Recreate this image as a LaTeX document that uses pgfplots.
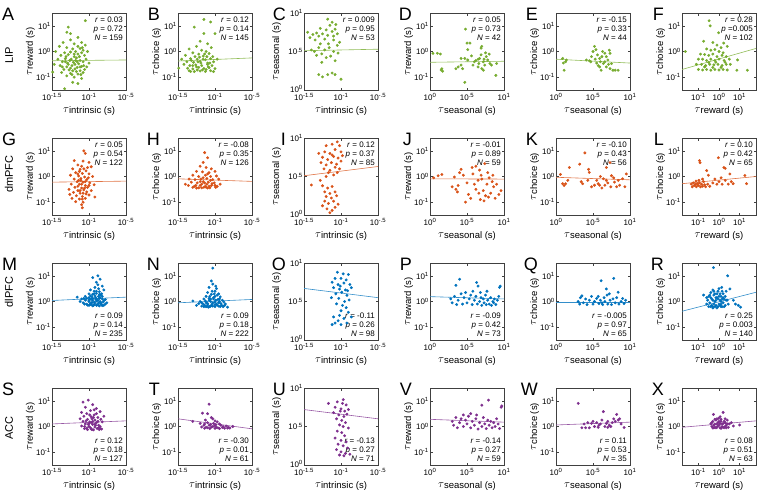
\documentclass[border=0pt]{standalone}
\usepackage{fontspec}
\setmainfont{Liberation Sans}
\usepackage{pgfplots}
\pgfplotsset{compat=1.18}
\definecolor{cG}{RGB}{119,172,48}
\definecolor{cO}{RGB}{217,83,25}
\definecolor{cB}{RGB}{0,114,189}
\definecolor{cP}{RGB}{126,47,142}
\newcommand{\tl}[1]{\raisebox{1.2pt}{\fontsize{11}{12}\selectfont$\tau$}#1 (s)}
\newcommand{\ee}[1]{10\textsuperscript{#1}}
\newcommand{\st}[3]{\textit{r} = #1\\\textit{p} #2\\\textit{N} = #3}
\pgfplotsset{
  panel/.style={scale only axis, width=74pt, height=77pt, anchor=north west,
    axis line style={line width=0.4pt, black!75}, tick style={black!75, line width=0.4pt},
    major tick length=2.5pt, tick align=inside,
    ticklabel style={font=\fontsize{8}{9}\selectfont, inner sep=1pt},
    xticklabel style={yshift=-2pt},
    label style={font=\fontsize{9.5}{11}\selectfont},
    xlabel style={at={(axis description cs:0.5,-0.27)}, anchor=center},
    ylabel style={at={(axis description cs:-0.29,0.5)}, anchor=center}},
  xint/.style={xmin=-1.5,xmax=-0.5,xtick={-1.5,-1,-0.5},xticklabels={\ee{-1.5},\ee{-1},\ee{-.5}},xlabel={\tl{intrinsic}}},
  xsea/.style={xmin=0,xmax=1,xtick={0,0.5,1},xticklabels={\ee{0},\ee{.5},\ee{1}},xlabel={\tl{seasonal}}},
  xrew/.style={xmin=-1.8,xmax=1.8,xtick={-1,0,1},xticklabels={\ee{-1},\ee{0},\ee{1}},xlabel={\tl{reward}}},
  yrew/.style={ymin=-1.5,ymax=1.5,ytick={-1,0,1},yticklabels={\ee{-1},\ee{0},\ee{1}},ylabel={\tl{reward}}},
  ych/.style={ymin=-1.5,ymax=1.5,ytick={-1,0,1},yticklabels={\ee{-1},\ee{0},\ee{1}},ylabel={\tl{choice}}},
  ysea/.style={ymin=0,ymax=1,ytick={0,0.5,1},yticklabels={\raisebox{2.5pt}{\ee{0}},\ee{.5},\ee{1}},ylabel={\tl{seasonal}},
    ylabel style={at={(axis description cs:-0.37,0.5)}}},
  scat/.style={only marks, mark=*, mark size=1.25pt, color=#1, mark options={draw=none, fill=#1}},
  rline/.style={no marks, line width=0.6pt, color=#1!80!white},
}
\tikzset{letA/.style={anchor=north west, font=\fontsize{18}{18}\selectfont, inner sep=0pt},
  letB/.style={anchor=north east, font=\fontsize{18}{18}\selectfont, inner sep=0pt},
  rowl/.style={rotate=90, font=\fontsize{11}{12}\selectfont, inner sep=0pt},
  stT/.style={anchor=north east, align=right, font=\fontsize{8}{9}\selectfont, inner sep=0pt},
  stB/.style={anchor=south east, align=right, font=\fontsize{8}{9}\selectfont, inner sep=0pt}}
\begin{document}
\begin{tikzpicture}
% ---------------- Row 1: LIP ----------------
\node[rowl] at (9pt,-55pt) {LIP};
\node[letA] at (2pt,-8pt) {A};
\begin{axis}[panel, at={(52pt,-13pt)}, xint, yrew]
\addplot[scat=cG] coordinates {(-1.05,1.2) (-1.28,0.95) (-1.3,0.75) (-1.25,0.7) (-1.15,0.55) (-1.35,0.35) (-1.2,0.3) (-1.1,0.35) (-1.05,0.25) (-1.4,0.2) (-1.3,0.15) (-1.22,0.1) (-1.12,0.12) (-1.08,0.05) (-1.45,0.0) (-1.33,-0.05) (-1.25,-0.02) (-1.18,0.0) (-1.1,-0.05) (-1.02,0.0) (-1.38,-0.15) (-1.28,-0.12) (-1.2,-0.2) (-1.15,-0.1) (-1.06,-0.15) (-1.42,-0.3) (-1.32,-0.28) (-1.24,-0.3) (-1.17,-0.25) (-1.12,-0.35) (-1.04,-0.3) (-1.36,-0.4) (-1.29,-0.45) (-1.21,-0.42) (-1.14,-0.48) (-1.08,-0.4) (-1.0,-0.45) (-1.47,-0.5) (-1.39,-0.55) (-1.3,-0.6) (-1.23,-0.55) (-1.16,-0.62) (-1.1,-0.58) (-1.03,-0.6) (-1.34,-0.7) (-1.27,-0.72) (-1.19,-0.68) (-1.12,-0.75) (-1.06,-0.7) (-1.49,-0.8) (-1.37,-0.82) (-1.25,-0.85) (-1.15,-0.88) (-1.08,-0.82) (-1.3,-0.95) (-1.2,-1.0) (-1.1,-1.05) (-1.22,-1.2) (-1.33,-1.45) (-1.15,-1.25) (-1.26,-0.35) (-1.19,-0.5) (-1.31,-0.2) (-1.13,-0.2) (-1.25,0.45) (-1.36,-0.6) (-1.17,-0.78) (-1.09,0.15)};
\addplot[scat=cG] coordinates {(-1.18,-0.35) (-1.25,-0.65) (-1.12,-0.6) (-1.22,-0.75) (-1.28,-0.5) (-1.16,-0.4) (-1.07,-0.55) (-1.2,-0.1) (-1.32,-0.4) (-1.15,0.2) (-1.23,-0.9) (-1.11,-0.9)};
\addplot[rline=cG] coordinates {(-1.5,-0.36) (-0.5,-0.33)};
\node[stT] at (rel axis cs:0.96,0.95) {\st{0.03}{= 0.72}{159}};
\end{axis}
\node[letB] at (160pt,-8pt) {B};
\begin{axis}[panel, at={(178pt,-13pt)}, xint, ych]
\addplot[scat=cG] coordinates {(-1.15,1.25) (-1.06,1.15) (-1.28,0.95) (-1.15,0.7) (-1.0,0.7) (-1.2,0.4) (-1.1,0.3) (-1.25,0.2) (-1.05,0.15) (-1.35,0.1) (-1.18,0.05) (-1.12,0.0) (-1.3,-0.05) (-1.22,-0.1) (-1.08,-0.08) (-1.4,-0.15) (-1.27,-0.2) (-1.16,-0.18) (-1.03,-0.2) (-1.45,-0.3) (-1.33,-0.28) (-1.24,-0.3) (-1.13,-0.32) (-1.06,-0.28) (-0.97,-0.3) (-1.38,-0.4) (-1.29,-0.42) (-1.2,-0.38) (-1.1,-0.45) (-1.02,-0.4) (-1.42,-0.5) (-1.34,-0.55) (-1.26,-0.52) (-1.18,-0.55) (-1.1,-0.5) (-1.04,-0.55) (-1.49,-0.65) (-1.37,-0.65) (-1.3,-0.68) (-1.22,-0.62) (-1.15,-0.66) (-1.08,-0.63) (-1.0,-0.67) (-1.35,-0.75) (-1.28,-0.78) (-1.2,-0.76) (-1.13,-0.78) (-1.06,-0.75) (-1.24,-0.72) (-1.17,-0.72) (-1.32,-0.35) (-1.14,-0.1) (-1.21,-0.22) (-1.09,-0.6)};
\addplot[scat=cG] coordinates {(-1.25,-0.6) (-1.19,-0.45) (-1.12,-0.7) (-1.3,-0.55) (-1.16,-0.3) (-1.07,-0.45) (-1.23,-0.4) (-1.33,-0.78) (-1.11,-0.2) (-1.02,-0.78)};
\addplot[rline=cG] coordinates {(-1.5,-0.37) (-0.5,-0.25)};
\node[stT] at (rel axis cs:0.96,0.95) {\st{0.12}{= 0.14}{145}};
\end{axis}
\node[letB] at (286pt,-8pt) {C};
\begin{axis}[panel, at={(304pt,-13pt)}, xint, ysea]
\addplot[scat=cG] coordinates {(-1.45,0.75) (-1.42,0.68) (-1.38,0.72) (-1.35,0.65) (-1.33,0.74) (-1.3,0.7) (-1.28,0.6) (-1.25,0.73) (-1.22,0.66) (-1.2,0.78) (-1.18,0.71) (-1.15,0.84) (-1.12,0.76) (-1.1,0.65) (-1.08,0.79) (-1.05,0.73) (-1.18,0.92) (-1.12,0.88) (-1.07,0.85) (-1.3,0.55) (-1.36,0.5) (-1.26,0.47) (-1.22,0.52) (-1.16,0.55) (-1.1,0.5) (-1.05,0.58) (-1.02,0.62) (-1.4,0.52) (-1.33,0.45) (-1.2,0.42) (-1.14,0.44) (-1.08,0.38) (-1.26,0.36) (-1.17,0.6) (-1.28,0.8) (-1.1,0.7) (-1.04,0.48) (-1.3,0.2) (-1.25,0.17) (-1.18,0.2) (-1.12,0.22) (-1.08,0.2) (-1.0,0.14)};
\addplot[rline=cG] coordinates {(-1.5,0.51) (-0.5,0.53)};
\node[stT] at (rel axis cs:0.96,0.95) {\st{0.009}{= 0.95}{53}};
\end{axis}
\node[letB] at (412pt,-8pt) {D};
\begin{axis}[panel, at={(430pt,-13pt)}, xsea, yrew]
\addplot[scat=cG] coordinates {(0.04,-0.07) (0.1,-0.07) (0.14,-0.1) (0.16,-0.67) (0.17,-0.77) (0.15,-0.72) (0.35,-0.67) (0.38,-0.6) (0.42,-0.53) (0.44,-0.67) (0.47,-1.2) (0.48,0.87) (0.5,0.33) (0.54,0.33) (0.51,0.07) (0.56,-0.17) (0.58,-0.53) (0.6,-0.4) (0.65,-0.3) (0.66,-0.47) (0.67,-0.27) (0.69,-0.13) (0.69,0.13) (0.7,0.2) (0.72,-0.4) (0.74,-0.53) (0.72,-0.73) (0.76,-0.2) (0.78,-0.33) (0.81,-0.47) (0.83,-0.53) (0.89,-0.93) (0.9,-0.47) (0.65,-0.6) (0.7,-0.67) (0.51,-0.33) (0.47,-0.27) (0.42,-0.27) (0.75,-0.05) (0.62,-0.35) (0.8,-0.1) (0.73,-0.3)};
\addplot[rline=cG] coordinates {(0,-0.42) (1,-0.38)};
\node[stT] at (rel axis cs:0.96,0.95) {\st{0.05}{= 0.73}{42}};
\end{axis}
\node[letB] at (538pt,-8pt) {E};
\begin{axis}[panel, at={(556pt,-13pt)}, xsea, ych]
\addplot[scat=cG] coordinates {(0.09,-0.27) (0.13,-0.4) (0.14,-0.33) (0.11,-0.73) (0.1,-0.45) (0.41,-0.33) (0.45,-0.36) (0.48,-0.2) (0.52,0.2) (0.5,0.0) (0.54,0.07) (0.56,-0.13) (0.59,-0.27) (0.59,-0.6) (0.61,-0.73) (0.64,-0.47) (0.66,-0.07) (0.68,-0.2) (0.7,-0.33) (0.68,-0.6) (0.73,-0.67) (0.73,-0.07) (0.75,-0.47) (0.77,-0.73) (0.8,-0.73) (0.84,-0.73) (0.63,0.0) (0.6,-0.4) (0.71,-0.5) (0.66,-0.4) (0.55,-0.45) (0.62,-0.2) (0.72,0.05) (0.57,-0.55) (0.47,-0.4) (0.53,-0.3)};
\addplot[rline=cG] coordinates {(0,-0.3) (1,-0.45)};
\node[stT] at (rel axis cs:0.96,0.95) {\st{-0.15}{= 0.33}{44}};
\end{axis}
\node[letB] at (664pt,-8pt) {F};
\begin{axis}[panel, at={(682pt,-13pt)}, xrew, ych]
\addplot[scat=cG] coordinates {(-0.48,1.2) (-0.43,1.0) (-0.02,0.73) (-0.75,0.4) (-1.64,0.0) (0.87,-0.73) (1.38,-0.73) (0.9,-0.33) (0.23,0.33) (0.4,0.2) (-0.3,0.35) (-0.1,0.25) (0.1,0.15) (-0.6,0.1) (-0.4,0.05) (-0.2,0.08) (0.0,0.0) (0.2,-0.05) (-0.9,-0.1) (-0.7,-0.12) (-0.5,-0.15) (-0.3,-0.1) (-0.1,-0.2) (0.15,-0.15) (0.35,-0.2) (-1.0,-0.3) (-0.8,-0.3) (-0.6,-0.35) (-0.4,-0.3) (-0.2,-0.35) (0.0,-0.3) (0.25,-0.35) (0.5,-0.3) (-1.1,-0.5) (-0.85,-0.5) (-0.65,-0.55) (-0.45,-0.5) (-0.25,-0.52) (-0.05,-0.5) (0.15,-0.55) (0.35,-0.5) (0.55,-0.5) (-1.0,-0.7) (-0.8,-0.72) (-0.6,-0.7) (-0.4,-0.73) (-0.2,-0.7) (0.0,-0.72) (0.2,-0.7) (0.4,-0.72) (-0.7,-0.6) (-0.3,-0.62) (0.1,-0.62) (-0.5,-0.42) (-0.15,-0.42) (0.3,-0.42)};
\addplot[rline=cG] coordinates {(-1.8,-0.7) (1.8,0.12)};
\node[stT] at (rel axis cs:0.96,0.95) {\st{0.28}{=0.005}{102}};
\end{axis}
% ---------------- Row 2: dmPFC ----------------
\node[rowl] at (9pt,-174pt) {dmPFC};
\node[letA] at (2pt,-133pt) {G};
\begin{axis}[panel, at={(52pt,-138pt)}, xint, yrew]
\addplot[scat=cO] coordinates {(-1.07,1.0) (-1.05,0.9) (-1.2,0.62) (-1.08,0.6) (-1.0,0.55) (-1.15,0.45) (-1.1,0.4) (-0.97,0.38) (-1.22,0.3) (-1.12,0.28) (-1.04,0.22) (-1.18,0.15) (-1.09,0.12) (-1.0,0.1) (-1.25,0.05) (-1.14,0.02) (-1.06,-0.02) (-0.95,0.0) (-1.2,-0.1) (-1.11,-0.08) (-1.03,-0.12) (-1.16,-0.2) (-1.08,-0.22) (-0.99,-0.25) (-1.24,-0.3) (-1.13,-0.3) (-1.05,-0.35) (-0.93,-0.32) (-1.19,-0.42) (-1.1,-0.45) (-1.02,-0.42) (-1.27,-0.5) (-1.15,-0.55) (-1.07,-0.52) (-0.97,-0.55) (-1.21,-0.62) (-1.12,-0.65) (-1.04,-0.68) (-1.17,-0.75) (-1.09,-0.78) (-1.0,-0.72) (-1.23,-0.85) (-1.13,-0.88) (-1.05,-0.85) (-0.92,-0.8) (-1.18,-0.98) (-1.08,-1.0) (-1.1,-1.1) (-1.09,-1.22) (-1.11,-0.15) (-1.07,0.3) (-1.15,-0.38) (-1.03,-0.6) (-1.26,-0.7) (-1.13,0.2) (-1.01,-0.05)};
\addplot[scat=cO] coordinates {(-1.1,-0.3) (-1.06,-0.45) (-1.12,-0.55) (-1.08,-0.65) (-1.05,-0.2) (-1.15,0.1) (-1.02,0.35) (-1.09,-0.88) (-1.14,-0.15) (-1.0,-0.35)};
\addplot[rline=cO] coordinates {(-1.5,-0.22) (-0.5,-0.18)};
\node[stT] at (rel axis cs:0.96,0.95) {\st{0.05}{= 0.54}{122}};
\end{axis}
\node[letB] at (160pt,-133pt) {H};
\begin{axis}[panel, at={(178pt,-138pt)}, xint, ych]
\addplot[scat=cO] coordinates {(-1.14,0.93) (-1.16,0.55) (-1.1,0.73) (-1.2,0.4) (-1.12,0.35) (-1.05,0.3) (-1.25,0.2) (-1.17,0.18) (-1.08,0.15) (-1.0,0.2) (-1.3,0.05) (-1.22,0.0) (-1.13,0.05) (-1.06,0.0) (-0.98,0.02) (-1.35,-0.1) (-1.27,-0.12) (-1.19,-0.1) (-1.11,-0.08) (-1.03,-0.12) (-0.95,-0.1) (-1.4,-0.3) (-1.32,-0.22) (-1.24,-0.25) (-1.16,-0.2) (-1.09,-0.22) (-1.01,-0.25) (-0.93,-0.3) (-1.36,-0.35) (-1.28,-0.38) (-1.2,-0.35) (-1.13,-0.38) (-1.05,-0.35) (-0.97,-0.38) (-1.3,-0.42) (-1.22,-0.44) (-1.15,-0.42) (-1.07,-0.44) (-0.99,-0.42) (-1.18,-0.3) (-1.11,-0.3) (-1.04,-0.28) (-1.25,-0.45) (-1.1,-0.45)};
\addplot[scat=cO] coordinates {(-1.12,-0.42) (-1.18,-0.44) (-1.08,-0.38) (-1.14,-0.25) (-1.06,-0.15) (-1.2,-0.2) (-1.0,-0.35) (-1.16,-0.05) (-1.1,0.1) (-1.26,-0.35)};
\addplot[rline=cO] coordinates {(-1.5,-0.09) (-0.5,-0.19)};
\node[stT] at (rel axis cs:0.96,0.95) {\st{-0.08}{= 0.35}{126}};
\end{axis}
\node[letB] at (286pt,-133pt) {I};
\begin{axis}[panel, at={(304pt,-138pt)}, xint, ysea]
\addplot[scat=cO] coordinates {(-1.2,0.9) (-1.12,0.92) (-1.05,0.95) (-1.02,0.9) (-1.22,0.82) (-1.15,0.8) (-1.08,0.85) (-1.0,0.82) (-1.25,0.75) (-1.18,0.72) (-1.1,0.76) (-1.04,0.74) (-0.98,0.77) (-1.27,0.68) (-1.2,0.65) (-1.13,0.68) (-1.06,0.66) (-1.0,0.7) (-1.23,0.6) (-1.15,0.58) (-1.08,0.62) (-1.02,0.6) (-1.17,0.55) (-1.1,0.52) (-1.05,0.55) (-1.3,0.8) (-1.12,0.78) (-1.4,0.39) (-1.28,0.45) (-1.2,0.5) (-1.25,0.38) (-1.18,0.35) (-1.12,0.37) (-1.22,0.3) (-1.15,0.28) (-1.08,0.3) (-1.2,0.24) (-1.13,0.22) (-1.06,0.25) (-1.1,0.18) (-1.17,0.15) (-1.04,0.14) (-1.25,0.12) (-1.19,0.08) (-1.12,0.06) (-1.15,0.03) (-1.08,0.1) (-1.22,0.18)};
\addplot[rline=cO] coordinates {(-1.5,0.51) (-0.5,0.63)};
\node[stT] at (rel axis cs:0.96,0.95) {\st{0.12}{= 0.37}{85}};
\end{axis}
\node[letB] at (412pt,-133pt) {J};
\begin{axis}[panel, at={(430pt,-138pt)}, xsea, yrew]
\addplot[scat=cO] coordinates {(0.05,-0.05) (0.11,0.03) (0.16,0.08) (0.33,-0.02) (0.35,-0.5) (0.37,-0.6) (0.38,-0.35) (0.4,0.15) (0.42,0.28) (0.45,0.05) (0.5,-0.25) (0.52,-0.7) (0.55,-0.85) (0.58,0.1) (0.6,-0.3) (0.62,0.4) (0.62,-0.5) (0.65,-0.15) (0.67,0.25) (0.68,-0.9) (0.7,-0.1) (0.72,-0.55) (0.74,0.5) (0.75,-0.75) (0.77,-0.3) (0.78,0.15) (0.8,-0.05) (0.82,-0.65) (0.84,-0.2) (0.86,-0.4) (0.88,-0.85) (0.9,-0.3) (0.93,-0.7) (0.96,-0.55) (0.48,-1.0) (0.3,-0.4) (0.57,0.35) (0.66,-0.65) (0.73,-0.95) (0.85,0.05) (0.79,-0.8) (0.69,0.05)};
\addplot[rline=cO] coordinates {(0,-0.09) (1,-0.1)};
\node[stT] at (rel axis cs:0.96,0.95) {\st{-0.01}{= 0.89}{59}};
\end{axis}
\node[letB] at (538pt,-133pt) {K};
\begin{axis}[panel, at={(556pt,-138pt)}, xsea, ych]
\addplot[scat=cO] coordinates {(0.06,0.08) (0.09,-0.28) (0.13,-0.28) (0.16,-0.15) (0.18,0.35) (0.11,-0.35) (0.32,0.48) (0.39,0.92) (0.34,-0.2) (0.36,-0.28) (0.43,-0.15) (0.45,0.16) (0.48,-0.4) (0.52,-0.34) (0.57,-0.28) (0.59,-0.34) (0.64,-0.09) (0.66,-0.34) (0.68,-0.15) (0.68,0.35) (0.73,0.54) (0.75,0.03) (0.79,-0.22) (0.82,-0.4) (0.86,-0.34) (0.93,-0.4) (0.95,0.1) (0.9,-0.09) (0.62,-0.45) (0.7,-0.25) (0.74,-0.4) (0.55,-0.15) (0.78,-0.05) (0.6,0.0) (0.84,-0.15) (0.44,0.28)};
\addplot[rline=cO] coordinates {(0,-0.03) (1,-0.13)};
\node[stT] at (rel axis cs:0.96,0.95) {\st{-0.10}{= 0.43}{56}};
\end{axis}
\node[letB] at (664pt,-133pt) {L};
\begin{axis}[panel, at={(682pt,-138pt)}, xrew, ych]
\addplot[scat=cO] coordinates {(-0.92,0.54) (-0.95,0.62) (-0.03,0.73) (0.24,0.35) (0.3,0.32) (0.53,0.1) (0.69,-0.28) (1.26,0.04) (1.34,-0.28) (-0.6,0.23) (-0.52,0.05) (-1.35,-0.3) (-1.25,-0.25) (-1.2,-0.35) (-1.15,-0.3) (-1.1,-0.4) (-1.05,-0.28) (-1.0,-0.35) (-0.95,-0.25) (-0.9,-0.4) (-0.85,-0.3) (-0.8,-0.38) (-0.75,-0.2) (-0.7,-0.32) (-0.65,-0.4) (-0.55,-0.3) (-0.45,-0.38) (-0.3,-0.25) (-0.2,-0.1) (-0.1,-0.3) (0.0,-0.2) (0.1,-0.05) (0.15,-0.3) (0.3,-0.15) (0.45,-0.3) (0.6,-0.2) (-1.12,-0.18) (-0.98,-0.15) (-0.8,-0.1) (-1.3,-0.4)};
\addplot[rline=cO] coordinates {(-1.8,-0.28) (1.8,0.0)};
\node[stT] at (rel axis cs:0.96,0.95) {\st{0.10}{= 0.42}{65}};
\end{axis}
% ---------------- Row 3: dlPFC ----------------
\node[rowl] at (9pt,-292pt) {dlPFC};
\node[letA] at (2pt,-258pt) {M};
\begin{axis}[panel, at={(52pt,-263pt)}, xint, yrew]
\addplot[scat=cB] coordinates {(-0.88,1.0) (-0.85,0.87) (-0.95,0.93) (-0.9,0.75) (-0.82,0.6) (-0.92,0.55) (-0.87,0.5) (-0.98,0.45) (-0.93,0.4) (-0.86,0.38) (-0.8,0.45) (-1.0,0.3) (-0.95,0.28) (-0.9,0.32) (-0.84,0.25) (-1.05,0.2) (-1.0,0.15) (-0.96,0.18) (-0.91,0.15) (-0.86,0.12) (-0.82,0.1) (-1.16,0.17) (-1.1,0.1) (-1.05,0.05) (-1.0,0.0) (-0.95,0.05) (-0.9,0.02) (-0.85,0.0) (-0.8,0.03) (-0.76,-0.05) (-1.08,-0.05) (-1.03,-0.1) (-0.98,-0.08) (-0.93,-0.12) (-0.88,-0.1) (-0.83,-0.12) (-0.78,-0.1) (-1.0,-0.15) (-0.95,-0.17) (-0.9,-0.15) (-0.86,-0.17) (-0.82,-0.16) (-1.12,0.0) (-0.97,0.1) (-0.93,-0.02) (-0.87,0.2) (-0.84,-0.05) (-0.92,0.22) (-0.99,0.08) (-1.02,-0.14) (-0.89,0.08) (-0.8,-0.15)};
\addplot[scat=cB] coordinates {(-0.97,-0.13) (-0.92,-0.06) (-0.88,0.04) (-0.85,0.15) (-0.83,0.3) (-0.9,0.4) (-0.95,0.12) (-1.0,0.05) (-1.03,0.12) (-0.94,-0.15) (-0.89,-0.13) (-0.84,-0.08) (-0.81,-0.02) (-0.78,0.08) (-0.96,-0.04) (-0.91,0.1) (-0.87,-0.06) (-0.99,-0.12) (-1.06,-0.1) (-0.93,0.3) (-0.88,0.65) (-0.86,0.27) (-0.98,0.22) (-1.07,0.12) (-0.82,0.2)};
\addplot[rline=cB] coordinates {(-1.5,0.04) (-0.5,0.17)};
\node[stB] at (rel axis cs:0.96,0.04) {\st{0.09}{= 0.14}{235}};
\end{axis}
\node[letB] at (160pt,-258pt) {N};
\begin{axis}[panel, at={(178pt,-263pt)}, xint, ych]
\addplot[scat=cB] coordinates {(-1.03,1.3) (-1.05,0.8) (-1.03,0.68) (-0.98,0.5) (-1.08,0.55) (-1.0,0.4) (-1.1,0.35) (-0.95,0.3) (-1.05,0.28) (-1.12,0.2) (-1.0,0.2) (-0.93,0.18) (-1.15,0.1) (-1.08,0.12) (-1.02,0.1) (-0.96,0.08) (-0.9,0.05) (-1.3,0.02) (-1.2,0.0) (-1.13,0.02) (-1.06,0.0) (-1.0,-0.02) (-0.94,0.0) (-0.88,-0.02) (-1.22,-0.08) (-1.16,-0.1) (-1.1,-0.08) (-1.04,-0.1) (-0.98,-0.1) (-0.92,-0.08) (-0.86,-0.1) (-1.18,-0.18) (-1.12,-0.2) (-1.06,-0.18) (-1.0,-0.2) (-0.95,-0.18) (-0.89,-0.2) (-0.83,-0.22) (-1.09,-0.22) (-1.03,-0.05) (-0.97,-0.14) (-1.14,-0.15) (-1.25,-0.15) (-1.07,0.2) (-0.99,0.05)};
\addplot[scat=cB] coordinates {(-1.1,-0.14) (-1.05,-0.16) (-1.0,-0.12) (-0.95,-0.05) (-0.91,-0.15) (-1.08,0.05) (-1.02,0.15) (-0.97,0.25) (-1.04,0.4) (-1.12,-0.05) (-1.18,-0.05) (-0.93,-0.2) (-1.07,-0.2) (-1.01,0.3) (-0.99,0.6) (-1.06,0.1) (-0.94,0.1) (-1.15,-0.2) (-0.87,-0.15) (-1.03,-0.18)};
\addplot[rline=cB] coordinates {(-1.5,-0.05) (-0.5,0.08)};
\node[stB] at (rel axis cs:0.96,0.04) {\st{0.09}{= 0.18}{222}};
\end{axis}
\node[letB] at (286pt,-258pt) {O};
\begin{axis}[panel, at={(304pt,-263pt)}, xint, ysea]
\addplot[scat=cB] coordinates {(-1.05,0.88) (-0.97,0.86) (-0.9,0.85) (-1.08,0.8) (-1.0,0.8) (-0.93,0.78) (-1.12,0.75) (-1.04,0.72) (-0.96,0.74) (-0.88,0.72) (-1.1,0.68) (-1.02,0.66) (-0.94,0.65) (-0.86,0.68) (-1.07,0.6) (-0.99,0.62) (-0.92,0.58) (-1.13,0.55) (-1.03,0.54) (-0.95,0.5) (-0.89,0.52) (-1.06,0.47) (-0.98,0.45) (-0.93,0.42) (-1.0,0.38) (-0.9,0.36) (-1.1,0.3) (-1.02,0.32) (-0.96,0.28) (-1.08,0.22) (-1.0,0.2) (-0.92,0.22) (-1.12,0.2) (-1.04,0.25) (-0.86,0.3) (-1.01,0.7) (-0.91,0.64)};
\addplot[rline=cB] coordinates {(-1.5,0.67) (-0.5,0.55)};
\node[stB] at (rel axis cs:0.96,0.04) {\st{-0.11}{= 0.26}{98}};
\end{axis}
\node[letB] at (412pt,-258pt) {P};
\begin{axis}[panel, at={(430pt,-263pt)}, xsea, yrew]
\addplot[scat=cB] coordinates {(0.28,0.1) (0.3,-0.05) (0.33,0.2) (0.35,0.63) (0.36,-0.12) (0.38,0.05) (0.4,0.87) (0.42,0.3) (0.44,-0.1) (0.46,0.15) (0.5,-0.05) (0.53,0.1) (0.55,0.25) (0.57,-0.12) (0.6,0.05) (0.62,0.2) (0.63,0.74) (0.65,0.6) (0.64,-0.1) (0.67,0.0) (0.69,0.15) (0.7,-0.15) (0.72,0.1) (0.73,-0.05) (0.75,0.25) (0.76,-0.12) (0.78,0.05) (0.8,-0.1) (0.82,0.15) (0.83,-0.15) (0.85,0.0) (0.87,0.1) (0.89,-0.12) (0.91,0.05) (0.93,0.2) (0.95,0.6) (0.94,0.55) (0.68,0.35) (0.58,0.4) (0.48,0.35) (0.77,0.4) (0.86,-0.05)};
\addplot[rline=cB] coordinates {(0,0.19) (1,0.1)};
\node[stB] at (rel axis cs:0.96,0.04) {\st{-0.09}{= 0.42}{73}};
\end{axis}
\node[letB] at (538pt,-258pt) {Q};
\begin{axis}[panel, at={(556pt,-263pt)}, xsea, ych]
\addplot[scat=cB] coordinates {(0.3,0.0) (0.32,-0.1) (0.33,0.15) (0.35,0.22) (0.37,-0.05) (0.4,0.1) (0.42,-0.12) (0.45,0.05) (0.48,0.2) (0.5,-0.1) (0.52,0.0) (0.55,0.12) (0.58,-0.08) (0.6,0.05) (0.61,0.81) (0.63,-0.12) (0.65,0.15) (0.66,0.0) (0.68,0.49) (0.7,-0.1) (0.72,0.3) (0.73,0.05) (0.75,-0.12) (0.77,0.1) (0.78,0.9) (0.8,-0.05) (0.82,0.15) (0.84,0.36) (0.85,-0.1) (0.88,0.0) (0.9,0.12) (0.92,-0.08) (0.94,0.05) (0.69,0.25) (0.57,0.2) (0.62,-0.05)};
\addplot[rline=cB] coordinates {(0,-0.02) (1,-0.02)};
\node[stB] at (rel axis cs:0.96,0.04) {\st{-0.005}{= 0.97}{65}};
\end{axis}
\node[letB] at (664pt,-258pt) {R};
\begin{axis}[panel, at={(682pt,-263pt)}, xrew, ych]
\addplot[scat=cB] coordinates {(-0.27,1.32) (0.42,1.0) (0.13,0.55) (0.53,0.49) (0.35,0.4) (0.2,0.3) (0.7,0.05) (0.94,-0.15) (1.05,-0.22) (0.8,-0.1) (-0.75,0.25) (-0.6,-0.1) (-0.5,0.2) (-0.45,-0.05) (-0.4,0.35) (-0.35,0.1) (-0.3,-0.2) (-0.25,0.25) (-0.2,0.0) (-0.15,-0.15) (-0.1,0.15) (-0.05,0.4) (0.0,-0.1) (0.05,0.05) (0.1,0.2) (0.15,-0.2) (0.2,-0.05) (0.25,0.1) (0.3,-0.15) (0.4,0.05) (-0.55,0.05) (-0.3,0.45) (-0.1,-0.25) (0.1,-0.2) (-0.4,-0.2) (0.3,0.2) (-0.2,0.3) (0.05,0.3) (-0.25,-0.1) (-0.5,-0.2) (0.45,-0.1) (0.0,0.5) (0.15,0.1) (-0.15,0.15)};
\addplot[scat=cB] coordinates {(-0.35,-0.15) (-0.2,-0.2) (-0.05,-0.2) (0.05,-0.15) (-0.4,0.15) (-0.3,0.05) (-0.15,0.05) (-0.05,0.1) (0.1,0.0) (0.2,0.15) (-0.45,0.25) (-0.1,0.3) (0.25,-0.2) (0.15,0.4) (-0.25,0.4) (0.35,0.05) (-0.6,0.15) (0.0,0.2) (-0.3,-0.25) (0.1,-0.1)};
\addplot[rline=cB] coordinates {(-1.8,-0.38) (1.8,0.36)};
\node[stB] at (rel axis cs:0.96,0.04) {\st{0.25}{= 0.003}{140}};
\end{axis}
% ---------------- Row 4: ACC ----------------
\node[rowl] at (9pt,-428pt) {ACC};
\node[letA] at (2pt,-383pt) {S};
\begin{axis}[panel, at={(52pt,-388pt)}, xint, yrew]
\addplot[scat=cP] coordinates {(-1.01,1.03) (-1.08,0.95) (-0.95,0.85) (-1.05,0.75) (-0.9,0.7) (-0.98,0.62) (-1.1,0.55) (-0.85,0.58) (-1.03,0.5) (-0.93,0.45) (-1.07,0.4) (-0.97,0.38) (-0.88,0.35) (-1.12,0.3) (-1.02,0.28) (-0.92,0.25) (-0.84,0.28) (-1.08,0.2) (-0.99,0.18) (-0.9,0.15) (-0.82,0.18) (-1.05,0.1) (-0.95,0.08) (-0.87,0.05) (-1.1,0.02) (-1.0,0.0) (-0.92,-0.02) (-0.85,0.0) (-1.06,-0.08) (-0.97,-0.1) (-0.89,-0.08) (-0.83,-0.1) (-1.02,-0.12) (-0.94,-0.13) (-0.86,-0.12) (-1.04,0.22) (-0.96,0.3) (-0.9,0.5) (-0.8,0.4) (-1.0,0.12) (-0.93,0.65)};
\addplot[scat=cP] coordinates {(-0.98,-0.05) (-0.91,0.05) (-0.95,0.2) (-1.01,0.08) (-0.87,-0.05) (-0.94,0.35) (-0.99,0.45) (-1.06,0.0) (-0.88,0.2) (-0.85,-0.08) (-0.96,-0.12) (-1.03,-0.06) (-0.92,0.1) (-0.97,0.15)};
\addplot[rline=cP] coordinates {(-1.5,0.1) (-0.5,0.22)};
\node[stB] at (rel axis cs:0.96,0.04) {\st{0.12}{= 0.18}{127}};
\end{axis}
\node[letB] at (160pt,-383pt) {T};
\begin{axis}[panel, at={(178pt,-388pt)}, xint, ych]
\addplot[scat=cP] coordinates {(-1.08,0.87) (-1.17,0.52) (-1.1,0.5) (-1.3,0.2) (-1.05,0.35) (-1.13,0.25) (-1.0,0.22) (-1.2,0.12) (-1.1,0.15) (-1.02,0.12) (-0.94,0.1) (-1.15,0.05) (-1.08,0.05) (-1.0,0.03) (-0.92,0.05) (-0.85,0.02) (-1.18,-0.02) (-1.12,-0.03) (-1.05,-0.02) (-0.98,-0.03) (-0.9,-0.04) (-0.82,-0.03) (-0.76,0.0) (-1.14,-0.07) (-1.07,-0.08) (-1.0,-0.07) (-0.94,-0.08) (-0.87,-0.07) (-0.8,-0.06) (-1.03,0.3) (-0.97,0.18)};
\addplot[scat=cP] coordinates {(-1.1,-0.05) (-1.03,0.0) (-0.96,-0.05) (-0.89,0.0) (-1.06,0.08) (-0.99,0.07) (-1.14,0.1) (-0.83,-0.06)};
\addplot[rline=cP] coordinates {(-1.5,0.3) (-0.5,-0.09)};
\node[stB] at (rel axis cs:0.96,0.04) {\st{-0.30}{= 0.01}{61}};
\end{axis}
\node[letB] at (286pt,-383pt) {U};
\begin{axis}[panel, at={(304pt,-388pt)}, xint, ysea]
\addplot[scat=cP] coordinates {(-1.17,0.8) (-1.05,0.82) (-0.98,0.8) (-0.93,0.78) (-1.08,0.75) (-1.0,0.73) (-0.95,0.7) (-0.9,0.72) (-1.1,0.68) (-1.03,0.65) (-0.96,0.63) (-0.92,0.66) (-1.06,0.6) (-0.99,0.58) (-0.94,0.55) (-1.02,0.52) (-0.97,0.5) (-0.9,0.48) (-1.05,0.44) (-0.99,0.42) (-0.95,0.38) (-1.08,0.35) (-1.0,0.32) (-0.93,0.3) (-1.04,0.27) (-0.97,0.25) (-0.91,0.22) (-1.06,0.2) (-1.0,0.17) (-0.94,0.15) (-1.02,0.13) (-0.88,0.14) (-0.96,0.12) (-1.01,0.7) (-0.97,0.85)};
\addplot[rline=cP] coordinates {(-1.5,0.72) (-0.5,0.6)};
\node[stB] at (rel axis cs:0.96,0.04) {\st{-0.13}{= 0.27}{71}};
\end{axis}
\node[letB] at (412pt,-383pt) {V};
\begin{axis}[panel, at={(430pt,-388pt)}, xsea, yrew]
\addplot[scat=cP] coordinates {(0.3,0.2) (0.32,0.05) (0.35,0.35) (0.37,-0.05) (0.4,0.15) (0.42,0.3) (0.45,0.0) (0.48,0.25) (0.5,0.1) (0.52,0.4) (0.55,-0.05) (0.57,0.2) (0.6,0.05) (0.62,0.3) (0.65,-0.1) (0.67,0.15) (0.7,0.83) (0.7,0.0) (0.72,0.35) (0.74,0.1) (0.76,-0.08) (0.78,0.25) (0.79,1.03) (0.8,0.05) (0.82,0.2) (0.84,-0.05) (0.86,0.15) (0.88,0.0) (0.9,0.3) (0.92,0.1) (0.94,-0.08) (0.96,0.75) (0.97,0.8) (0.63,0.45) (0.55,0.5) (0.45,0.45)};
\addplot[rline=cP] coordinates {(0,0.28) (1,0.17)};
\node[stB] at (rel axis cs:0.96,0.04) {\st{-0.14}{= 0.27}{59}};
\end{axis}
\node[letB] at (538pt,-383pt) {W};
\begin{axis}[panel, at={(556pt,-388pt)}, xsea, ych]
\addplot[scat=cP] coordinates {(0.3,0.9) (0.35,-0.05) (0.38,0.1) (0.4,-0.05) (0.43,0.15) (0.45,-0.05) (0.48,0.12) (0.5,0.2) (0.52,0.0) (0.55,0.15) (0.57,-0.03) (0.6,0.1) (0.62,0.25) (0.64,0.58) (0.66,0.0) (0.68,0.12) (0.7,0.2) (0.72,0.05) (0.74,0.0) (0.76,0.15) (0.78,0.3) (0.8,0.2) (0.82,0.47) (0.84,0.25) (0.86,0.3) (0.88,0.1) (0.92,-0.04) (0.7,-0.03) (0.58,0.05)};
\addplot[rline=cP] coordinates {(0,0.06) (1,0.17)};
\node[stB] at (rel axis cs:0.96,0.04) {\st{0.11}{= 0.53}{35}};
\end{axis}
\node[letB] at (664pt,-383pt) {X};
\begin{axis}[panel, at={(682pt,-388pt)}, xrew, ych]
\addplot[scat=cP] coordinates {(-0.27,0.47) (0.2,0.55) (1.0,0.06) (-0.02,0.32) (-0.4,0.1) (-0.35,0.0) (-0.3,0.2) (-0.25,-0.05) (-0.2,0.1) (-0.15,0.25) (-0.1,-0.03) (-0.05,0.15) (0.0,0.05) (0.05,-0.05) (0.1,0.2) (0.15,0.0) (0.2,0.12) (0.25,-0.05) (0.3,0.15) (0.35,0.05) (0.4,0.25) (0.5,0.1) (0.6,0.15) (0.7,0.02) (-0.3,-0.06) (-0.1,0.3) (0.1,-0.07) (0.3,0.3) (-0.2,0.28) (0.05,0.38) (0.45,-0.03)};
\addplot[scat=cP] coordinates {(-0.25,0.05) (-0.15,-0.05) (-0.05,0.02) (0.05,0.12) (0.15,0.1) (0.25,0.2) (0.35,-0.05) (-0.35,0.15) (-0.1,0.1) (0.0,0.2) (0.2,-0.03) (0.1,0.28) (-0.2,-0.03) (0.4,0.1) (0.3,0.0)};
\addplot[rline=cP] coordinates {(-1.8,-0.03) (1.8,0.22)};
\node[stB] at (rel axis cs:0.96,0.04) {\st{0.08}{= 0.51}{63}};
\end{axis}
\pgfresetboundingbox
\path (0,0) rectangle (757pt,-491pt);
\end{tikzpicture}
\end{document}
